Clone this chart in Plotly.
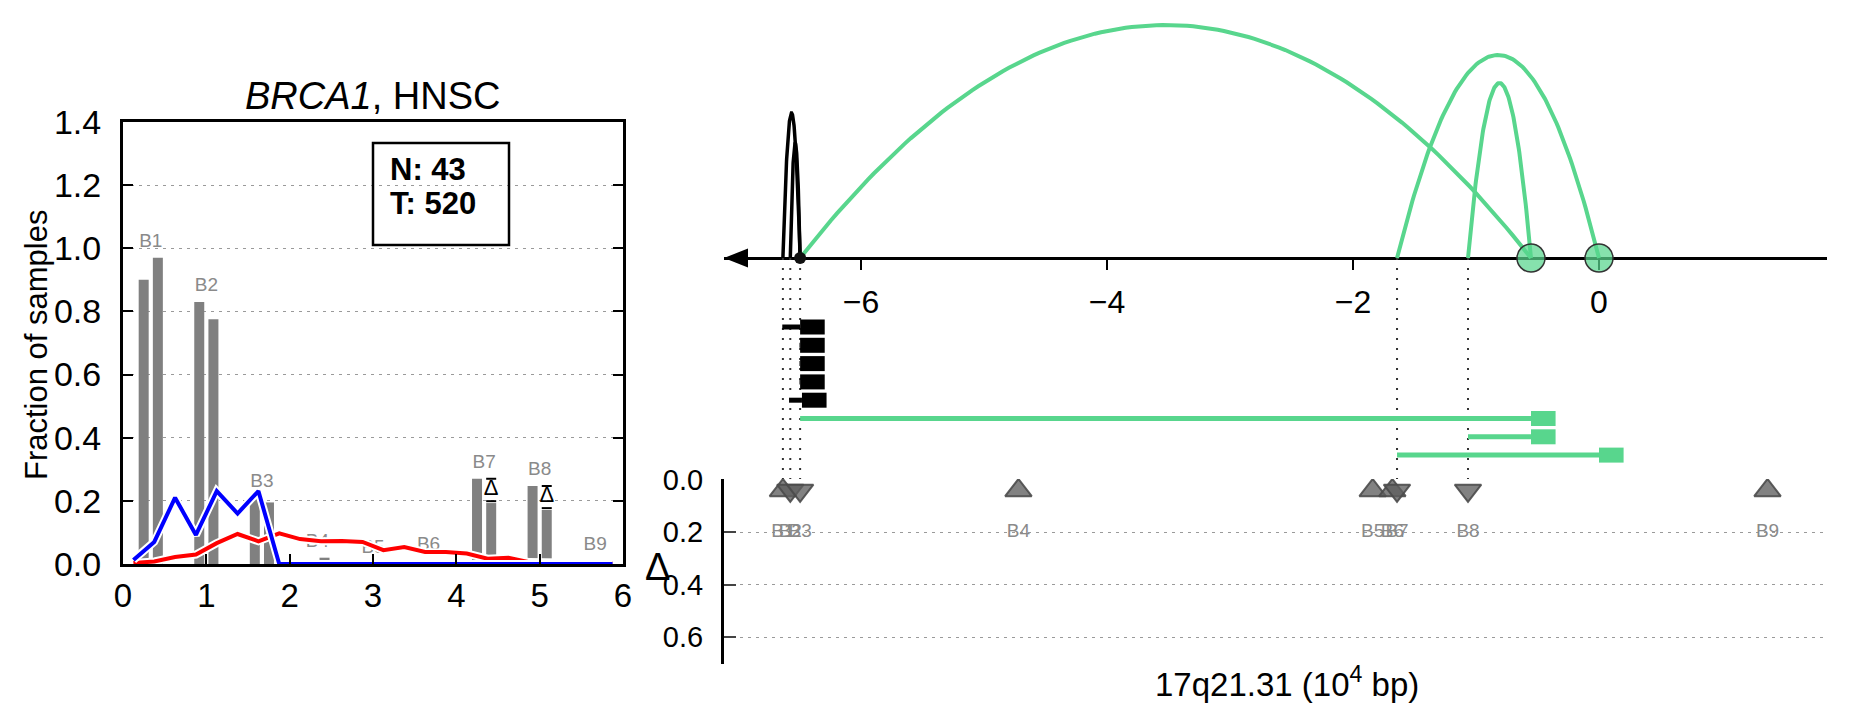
import numpy as np
import plotly.graph_objects as go

W, H = 1851, 718
FONT = "Liberation Sans, Arial, Helvetica, sans-serif"
GREEN = "#58D68D"
GRAY = "#808080"

# ---------------- Left panel data ----------------
gene, cohort = "BRCA1", "HNSC"
n_normal, n_tumor = 43, 520
groups = ["B1", "B2", "B3", "B4", "B5", "B6", "B7", "B8", "B9"]
frac_first = [0.90, 0.83, 0.21, 0.0, 0.0, 0.005, 0.27, 0.247, 0.0]
frac_second = [0.97, 0.775, 0.195, 0.02, 0.0, 0.01, 0.193, 0.171, 0.01]
delta_groups = ["B7", "B8"]

curve_x = [0.125, 0.375, 0.625, 0.875, 1.125, 1.375, 1.625, 1.875,
           2.125, 2.375, 2.625, 2.875, 3.125, 3.375, 3.625, 3.875,
           4.125, 4.375, 4.625, 4.875, 5.125, 5.375, 5.625, 5.875]
blue_y = [0.013, 0.07, 0.21, 0.092, 0.231, 0.16, 0.231, 0.0,
          0.0, 0.0, 0.0, 0.0, 0.0, 0.0, 0.0, 0.0,
          0.0, 0.0, 0.0, 0.0, 0.0, 0.0, 0.0, 0.0]
red_y = [0.003, 0.008, 0.022, 0.03, 0.066, 0.095, 0.072, 0.097,
         0.079, 0.072, 0.073, 0.07, 0.044, 0.054, 0.038, 0.038,
         0.033, 0.017, 0.02, 0.006, 0.006, 0.005, 0.004, 0.002]

# ---------------- Right panel data (10^4 bp) ----------------
bp_labels = ["B1", "B2", "B3", "B4", "B5", "B6", "B7", "B8", "B9"]
bp_pos = [-6.635, -6.575, -6.495, -4.72, -1.84, -1.68, -1.642, -1.065, 1.37]
bp_dir = ["up", "down", "down", "up", "up", "up", "down", "down", "up"]
bp_delta = [0.04, 0.04, 0.04, 0.04, 0.04, 0.04, 0.04, 0.04, 0.04]

arc_start = [-6.635, -6.575, -6.495, -1.642, -1.065]
arc_end = [-6.495, -6.495, -0.553, 0.0, -0.553]
arc_height = [1.45, 1.15, 2.33, 2.03, 1.75]
arc_color = ["black", "black", "green", "green", "green"]

circle_pos = [-0.553, 0.0]
dot_pos = [-6.495]

seg_start = [-6.64, -6.50, -6.50, -6.50, -6.585, -6.495, -1.065, -1.642]
seg_end = [-6.495, -6.495, -6.495, -6.495, -6.48, -0.553, -0.553, 0.0]
seg_color = ["black", "black", "black", "black", "black", "green", "green", "green"]

guide_pos = [-6.635, -6.575, -6.495, -1.642, -1.065]

# ---------------- geometry / style ----------------
PX_PER_UNIT = 123.0
ORIGIN_PX = 1599.0
XR = [(724 - ORIGIN_PX) / PX_PER_UNIT, (1827 - ORIGIN_PX) / PX_PER_UNIT]
Y2R = [-(479 - 258) / 100.0, 258 / 100.0]
Y3R = [(664 - 480) / 261.7, (479 - 480) / 261.7]
BLOCK_LEN = 0.2
ROW0, ROW_STEP = -0.69, 0.183
BAR_W, BAR_OFF = 0.12, 0.085
colmap = {"black": "black", "green": GREEN}

fig = go.Figure()

# ---------- left panel ----------
centers = [(i + 0.5) * 6.0 / len(groups) for i in range(len(groups))]
fig.add_trace(go.Bar(x=[c - BAR_OFF for c in centers], y=frac_first, width=BAR_W,
                     marker=dict(color=GRAY, line=dict(width=0)), xaxis="x", yaxis="y"))
fig.add_trace(go.Bar(x=[c + BAR_OFF for c in centers], y=frac_second, width=BAR_W,
                     marker=dict(color=GRAY, line=dict(width=0)), xaxis="x", yaxis="y"))

fig.add_trace(go.Scatter(x=centers, y=[max(a, b) + 0.02 for a, b in zip(frac_first, frac_second)],
                         text=groups, mode="text", textposition="top center",
                         textfont=dict(size=19, color="#8a8a8a", family=FONT),
                         xaxis="x", yaxis="y"))

for g in delta_groups:
    i = groups.index(g)
    xc = centers[i] + BAR_OFF
    for yv in (frac_first[i], frac_second[i] + 0.006):
        fig.add_trace(go.Scatter(x=[xc - BAR_W / 2, xc + BAR_W / 2], y=[yv, yv], mode="lines",
                                 line=dict(color="black", width=2), xaxis="x", yaxis="y"))
    fig.add_trace(go.Scatter(x=[xc], y=[(frac_first[i] + frac_second[i]) / 2 + 0.005], text=["Δ"],
                             mode="text", textposition="middle center",
                             textfont=dict(size=22, color="black", family=FONT),
                             xaxis="x", yaxis="y"))

for ys, col in ((red_y, "red"), (blue_y, "blue")):
    fig.add_trace(go.Scatter(x=curve_x, y=ys, mode="lines", line=dict(color="white", width=8),
                             xaxis="x", yaxis="y"))
    fig.add_trace(go.Scatter(x=curve_x, y=ys, mode="lines", line=dict(color=col, width=4),
                             xaxis="x", yaxis="y"))

# ---------- right top panel ----------
for p in guide_pos:
    fig.add_trace(go.Scatter(x=[p, p], y=[0, Y2R[0]], mode="lines",
                             line=dict(color="#333333", width=2, dash="2px,8px"),
                             xaxis="x2", yaxis="y2"))

for s, e, h, c in zip(arc_start, arc_end, arc_height, arc_color):
    xs = np.linspace(s, e, 120)
    m, hw = (s + e) / 2, (e - s) / 2
    ys = h * (1 - ((xs - m) / hw) ** 2)
    fig.add_trace(go.Scatter(x=xs, y=ys, mode="lines",
                             line=dict(color=colmap[c], width=3.5 if c == "black" else 4),
                             xaxis="x2", yaxis="y2"))

for i, (s, e, c) in enumerate(zip(seg_start, seg_end, seg_color)):
    yrow = ROW0 - ROW_STEP * i
    fig.add_trace(go.Scatter(x=[s, e], y=[yrow, yrow], mode="lines",
                             line=dict(color=colmap[c], width=5), xaxis="x2", yaxis="y2"))
    fig.add_trace(go.Scatter(x=[e, e + BLOCK_LEN], y=[yrow, yrow], mode="lines",
                             line=dict(color=colmap[c], width=15), xaxis="x2", yaxis="y2"))

fig.add_trace(go.Scatter(x=circle_pos, y=[0] * len(circle_pos), mode="markers",
                         marker=dict(size=28, color="rgba(88,214,141,0.72)",
                                     line=dict(color="#333333", width=1.5)),
                         xaxis="x2", yaxis="y2"))
fig.add_trace(go.Scatter(x=dot_pos, y=[0] * len(dot_pos), mode="markers",
                         marker=dict(size=12, color="#111111"), xaxis="x2", yaxis="y2"))

# ---------- right bottom panel ----------
for d, sym in (("up", "triangle-up"), ("down", "triangle-down")):
    xs = [p for p, dd in zip(bp_pos, bp_dir) if dd == d]
    ys = [v for v, dd in zip(bp_delta, bp_dir) if dd == d]
    fig.add_trace(go.Scatter(x=xs, y=ys, mode="markers",
                             marker=dict(symbol=sym, size=23, color="rgba(95,95,95,0.78)",
                                         line=dict(color="rgba(75,75,75,0.9)", width=2)),
                             xaxis="x3", yaxis="y3"))
fig.add_trace(go.Scatter(x=bp_pos, y=[0.2] * len(bp_pos), text=bp_labels, mode="text",
                         textposition="middle center",
                         textfont=dict(size=19, color="#8a8a8a", family=FONT),
                         xaxis="x3", yaxis="y3"))

grid = dict(showgrid=True, gridcolor="#9a9a9a", gridwidth=1, griddash="3px,5px")

fig.update_layout(
    width=W, height=H, margin=dict(l=0, r=0, t=0, b=0, autoexpand=False),
    paper_bgcolor="white", plot_bgcolor="white", showlegend=False,
    font=dict(family=FONT, color="black"),
    barmode="overlay",
    xaxis=dict(domain=[123 / W, 623 / W], range=[0, 6], anchor="y", automargin=False,
               tickvals=[0, 1, 2, 3, 4, 5, 6], ticks="inside", ticklen=10, tickwidth=1.5,
               tickcolor="black", showline=True, linewidth=3, linecolor="black", mirror=True,
               showgrid=False, zeroline=False, tickfont=dict(size=33), ticklabelstandoff=0),
    yaxis=dict(domain=[1 - 564 / H, 1 - 122 / H], range=[0, 1.4], anchor="x", automargin=False,
               tickvals=[0, 0.2, 0.4, 0.6, 0.8, 1.0, 1.2, 1.4],
               ticktext=["0.0", "0.2", "0.4", "0.6", "0.8", "1.0", "1.2", "1.4"],
               ticks="inside", ticklen=10, tickwidth=1.5, tickcolor="black",
               showline=True, linewidth=3, linecolor="black", mirror="ticks",
               zeroline=False, tickfont=dict(size=34), ticklabelstandoff=12, **grid),
    xaxis2=dict(domain=[724 / W, 1827 / W], range=XR, anchor="free", position=1 - 258 / H,
                side="bottom", showline=True, linewidth=2.5, linecolor="black", automargin=False,
                ticks="outside", ticklen=10, tickwidth=1.5, tickcolor="black",
                tickvals=[-6, -4, -2, 0], ticktext=["−6", "−4", "−2", "0"],
                tickfont=dict(size=32), showgrid=False, zeroline=False,
                ticklabelstandoff=5, layer="below traces"),
    yaxis2=dict(domain=[1 - 479 / H, 1], range=Y2R, anchor="x2", visible=False, automargin=False),
    xaxis3=dict(domain=[724 / W, 1827 / W], range=XR, anchor="y3", visible=False, automargin=False),
    yaxis3=dict(domain=[1 - 664 / H, 1 - 479 / H], range=Y3R, anchor="x3", automargin=False,
                showline=True, linewidth=3, linecolor="black",
                ticks="inside", ticklen=12, tickwidth=1.5, tickcolor="#444444",
                tickvals=[0, 0.2, 0.4, 0.6], ticktext=["0.0", "0.2", "0.4", "0.6"],
                tickfont=dict(size=29), zeroline=False, ticklabelstandoff=12, **grid),
)

fig.add_shape(type="path", xref="x2", yref="y2", xsizemode="pixel", ysizemode="pixel",
              xanchor=XR[0], yanchor=0, path="M 0 0 L 24 9.5 L 24 -9.5 Z",
              fillcolor="black", line=dict(width=0))
fig.add_shape(type="rect", xref="paper", yref="paper", x0=373 / W, x1=509 / W,
              y0=1 - 245 / H, y1=1 - 143 / H, line=dict(color="black", width=2.5))

fig.add_annotation(x=373 / W, y=1 - 96 / H, xref="paper", yref="paper",
                   text=f"<i>{gene}</i>, {cohort}", showarrow=False,
                   font=dict(size=38), xanchor="center", yanchor="middle")
fig.add_annotation(x=388 / W, y=1 - 170 / H, xref="paper", yref="paper",
                   text=f"<b>N: {n_normal}</b>", showarrow=False,
                   font=dict(size=31), xanchor="left", yanchor="middle")
fig.add_annotation(x=388 / W, y=1 - 204 / H, xref="paper", yref="paper",
                   text=f"<b>T: {n_tumor}</b>", showarrow=False,
                   font=dict(size=31), xanchor="left", yanchor="middle")
fig.add_annotation(x=36 / W, y=1 - 345 / H, xref="paper", yref="paper",
                   text="Fraction of samples", textangle=-90, showarrow=False,
                   font=dict(size=31), xanchor="center", yanchor="middle")
fig.add_annotation(x=657 / W, y=1 - 567 / H, xref="paper", yref="paper",
                   text="Δ", showarrow=False, font=dict(size=38),
                   xanchor="center", yanchor="middle")
fig.add_annotation(x=1287 / W, y=1 - 682 / H, xref="paper", yref="paper",
                   text="17q21.31 (10<sup>4</sup> bp)", showarrow=False, font=dict(size=33),
                   xanchor="center", yanchor="middle")

fig.write_html("out.html", config={"displayModeBar": False},
               post_script="document.body.style.margin='0px';")
